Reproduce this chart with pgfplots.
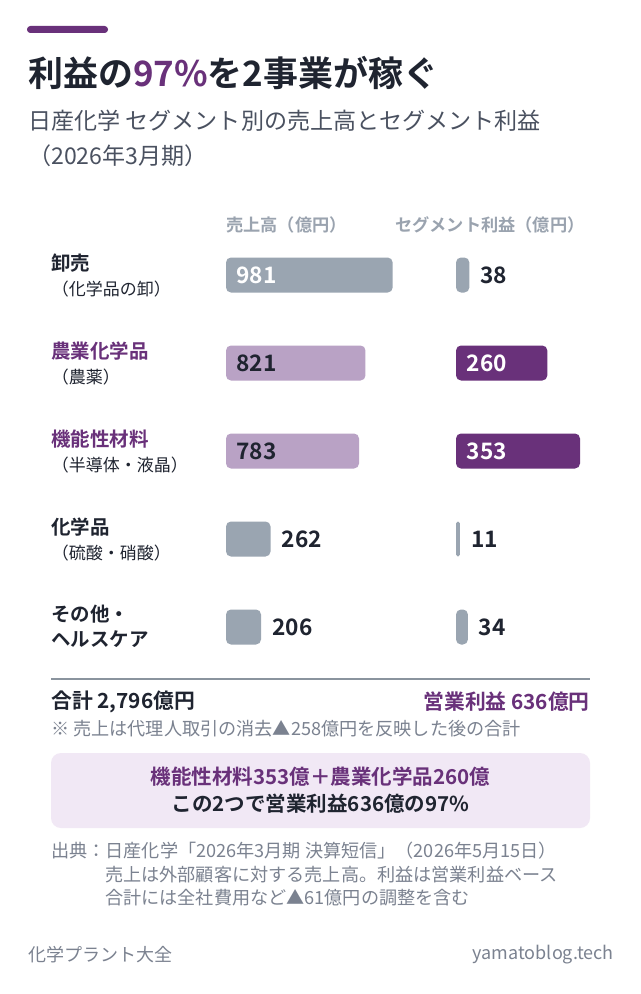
\documentclass[border=0pt]{standalone}
\usepackage{fontspec}
\setmainfont{Noto Sans CJK JP}[BoldFont={Noto Sans CJK JP Bold}]
\usepackage{pgfplots}
\pgfplotsset{compat=1.18}
\definecolor{cGray}{HTML}{9AA5B1}
\definecolor{cLav}{HTML}{B9A2C5}
\definecolor{cPur}{HTML}{69317A}
\definecolor{cText}{HTML}{1F2430}
\definecolor{cSub}{HTML}{4A5160}
\definecolor{cHead}{HTML}{9AA3AF}
\definecolor{cNote}{HTML}{7B8290}
\definecolor{cBox}{HTML}{F1E8F5}
\definecolor{cLine}{HTML}{8A949E}
\newcommand{\fsz}[1]{\fontsize{#1}{#1}\selectfont}
\begin{document}
\begin{tikzpicture}[x=0.75pt,y=-0.75pt]
\path[use as bounding box, fill=white] (0,0) rectangle (640,994);
% top accent
\fill[cPur, rounded corners=2.5pt] (27,26) rectangle (108,33);
% title
\node[anchor=west, inner sep=0pt, text=cText, font=\bfseries\fsz{26.2pt}] at (28,72.5) {利益の\textcolor{cPur}{97\%}を2事業が稼ぐ};
\node[anchor=west, inner sep=0pt, text=cSub, font=\fsz{17.3pt}] at (28,121) {日産化学 セグメント別の売上高とセグメント利益};
\node[anchor=west, inner sep=0pt, text=cSub, font=\fsz{17.3pt}] at (28,156) {（2026年3月期）};
% headers
\node[anchor=west, inner sep=0pt, text=cHead, font=\bfseries\fsz{12.9pt}] at (226,225) {売上高（億円）};
\node[anchor=west, inner sep=0pt, text=cHead, font=\bfseries\fsz{12.9pt}] at (395,225) {セグメント利益（億円）};
% category labels
\begin{scope}[every node/.style={anchor=west, inner sep=0pt}]
\node[text=cText, font=\bfseries\fsz{14.6pt}] at (51,263.5) {卸売};
\node[text=cText, font=\fsz{12.75pt}] at (51.5,289) {（化学品の卸）};
\node[text=cPur, font=\bfseries\fsz{14.6pt}] at (51,351.5) {農業化学品};
\node[text=cText, font=\fsz{12.75pt}] at (51.5,377) {（農薬）};
\node[text=cPur, font=\bfseries\fsz{14.6pt}] at (51,439.5) {機能性材料};
\node[text=cText, font=\fsz{12.75pt}] at (51.5,465) {（半導体・液晶）};
\node[text=cText, font=\bfseries\fsz{14.6pt}] at (51,527.5) {化学品};
\node[text=cText, font=\fsz{12.75pt}] at (51.5,553) {（硫酸・硝酸）};
\node[text=cText, font=\bfseries\fsz{14.6pt}] at (51,614) {その他・};
\node[text=cText, font=\bfseries\fsz{14.6pt}] at (51,639) {ヘルスケア};
\end{scope}
% sales axis
\coordinate (SA) at (226,231);
\begin{axis}[
  at={(SA)}, anchor=north west,
  scale only axis, width=125pt, height=330pt,
  xmin=0, xmax=981, ymin=-0.5, ymax=4.5, y dir=reverse,
  hide axis, clip=false,
  /pgf/number format/assume math mode=true,
  bar width=26.25pt,
  every node near coord/.append style={font=\bfseries\fsz{17pt}, inner sep=0pt},
]
\addplot[xbar, bar shift=0pt, fill=cGray, draw=none, rounded corners=3.75pt] coordinates {(981,0)};
\addplot[xbar, bar shift=0pt, fill=cLav, draw=none, rounded corners=3.75pt] coordinates {(821,1) (783,2)};
\addplot[xbar, bar shift=0pt, fill=cGray, draw=none, rounded corners=3.75pt,
  nodes near coords, point meta=x,
  every node near coord/.append style={anchor=west, xshift=8.25pt, text=cText}] coordinates {(262,3) (206,4)};
\addplot[xbar, bar shift=0pt, draw=none, fill=none,
  nodes near coords, point meta=explicit,
  every node near coord/.append style={anchor=west, xshift=7.5pt, text=white}] coordinates {(0,0) [981]};
\addplot[xbar, bar shift=0pt, draw=none, fill=none,
  nodes near coords, point meta=explicit,
  every node near coord/.append style={anchor=west, xshift=7.5pt, text=cText}] coordinates {(0,1) [821] (0,2) [783]};
\end{axis}
% profit axis
\coordinate (PA) at (456,231);
\begin{axis}[
  at={(PA)}, anchor=north west,
  scale only axis, width=93pt, height=330pt,
  xmin=0, xmax=353, ymin=-0.5, ymax=4.5, y dir=reverse,
  hide axis, clip=false,
  /pgf/number format/assume math mode=true,
  bar width=26.25pt,
  every node near coord/.append style={font=\bfseries\fsz{17pt}, inner sep=0pt},
]
\addplot[xbar, bar shift=0pt, fill=cPur, draw=none, rounded corners=3.75pt] coordinates {(260,1) (353,2)};
\addplot[xbar, bar shift=0pt, fill=cGray, draw=none, rounded corners=3.75pt,
  nodes near coords, point meta=x,
  every node near coord/.append style={anchor=west, xshift=8pt, text=cText}] coordinates {(38,0) (34,4)};
\addplot[xbar, bar shift=0pt, fill=cGray, draw=none, rounded corners=1.4pt,
  nodes near coords, point meta=x,
  every node near coord/.append style={anchor=west, xshift=8.5pt, text=cText}] coordinates {(11,3)};
\addplot[xbar, bar shift=0pt, draw=none, fill=none,
  nodes near coords, point meta=explicit,
  every node near coord/.append style={anchor=west, xshift=8pt, text=white}] coordinates {(0,1) [260] (0,2) [353]};
\end{axis}
% divider
\draw[cLine, line width=1.5pt] (51,679) -- (590,679);
\node[anchor=west, inner sep=0pt, text=cText, font=\bfseries\fsz{15.6pt}] at (51,702) {合計 2,796億円};
\node[anchor=east, inner sep=0pt, text=cPur, font=\bfseries\fsz{15.6pt}] at (590,702) {営業利益 636億円};
\node[anchor=west, inner sep=0pt, text=cNote, font=\fsz{13.6pt}] at (51,729) {※ 売上は代理人取引の消去▲258億円を反映した後の合計};
% box
\fill[cBox, rounded corners=7.5pt] (51,753) rectangle (590,828);
\node[inner sep=0pt, text=cPur, font=\bfseries\fsz{15.4pt}] at (320.5,777) {機能性材料353億＋農業化学品260億};
\node[inner sep=0pt, text=cText, font=\bfseries\fsz{15.4pt}] at (320.5,804) {この2つで営業利益636億の97\%};
% source
\node[anchor=west, inner sep=0pt, text=cNote, font=\fsz{13.6pt}] at (51,850.5) {出典：日産化学「2026年3月期 決算短信」（2026年5月15日）};
\node[anchor=west, inner sep=0pt, text=cNote, font=\fsz{13.6pt}] at (105,875) {売上は外部顧客に対する売上高。利益は営業利益ベース};
\node[anchor=west, inner sep=0pt, text=cNote, font=\fsz{13.6pt}] at (105,898) {合計には全社費用など▲61億円の調整を含む};
% footer
\node[anchor=west, inner sep=0pt, text=cNote, font=\fsz{13.5pt}] at (28,955) {化学プラント大全};
\node[anchor=east, inner sep=0pt, text=cNote, font=\fsz{13.5pt}] at (614,955) {yamatoblog.tech};
\end{tikzpicture}
\end{document}
